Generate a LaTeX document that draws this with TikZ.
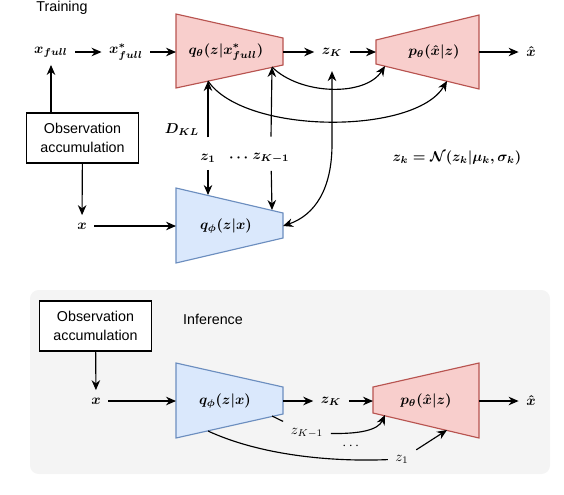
\documentclass[tikz,border=0pt]{standalone}
\usepackage{amsmath, amssymb, bm}
\usepackage[no-math]{fontspec}
\newfontfamily\labelfont{Liberation Sans}
\usetikzlibrary{arrows.meta}
\definecolor{decfill}{HTML}{F8CECC}\definecolor{decline}{HTML}{B85450}
\definecolor{encfill}{HTML}{DAE8FC}\definecolor{encline}{HTML}{6C8EBF}
\definecolor{panel}{HTML}{F4F4F4}

\begin{document}
\begin{tikzpicture}[x=0.7pt, y=-0.7pt, line width=0.8pt, >={Stealth[length=7pt, width=6pt]},
    txt/.style={font=\labelfont}, mth/.style={font=\boldmath, inner sep=5pt}, lbl/.style={inner sep=5pt},
    net/.style={font=\boldmath, inner sep=1pt},
    obs/.style={draw, fill=white, font=\labelfont\fontsize{10}{13}\selectfont, align=center, minimum width=78pt, minimum height=35pt},
    enc/.style={draw=encline, fill=encfill}, dec/.style={draw=decline, fill=decfill}]
  \useasboundingbox (0,0) rectangle (564,494);
  % training
  \draw[dec] (176,14) -- (283,38) -- (283,65) -- (176,88) -- cycle;
  \draw[dec] (376,40) -- (479,15) -- (479,89) -- (376,64) -- cycle;
  \draw[enc] (176,188) -- (283,213) -- (283,238) -- (176,263) -- cycle;
  \coordinate (qthin) at (176,52); \coordinate (qthout) at (283,52); \coordinate (qtha) at (208,81); \coordinate (qthb) at (272,67);
  \coordinate (pthin) at (376,52); \coordinate (pthout) at (479,52); \coordinate (ptha) at (385,66); \coordinate (pthb) at (447,81);
  \coordinate (qphin) at (176,226); \coordinate (qphout) at (283,226); \coordinate (qpha) at (208,195); \coordinate (qphb) at (272,210);
  \node[txt] (train) at (62,8) {Training};
  \node[mth] (xf) at (51,52) {$x_{full}$}; \node[mth] (xs) at (126,52) {$x^*_{full}$}; \node[net] (qth) at (226,52) {$q_\theta(z|x^*_{full})$};
  \node[mth] (zK) at (332,52) {$z_K$}; \node[net] (pth) at (434,52) {$p_\theta(\hat{x}|z)$}; \node[mth] (xh) at (531,52) {$\hat{x}$};
  \node[obs] (obs1) at (82.5,138) {Observation\\accumulation};
  \node[mth] (dkl) at (182,130) {$D_{KL}$};
  \node[mth] (z1) at (208,158) {$z_1$}; \node[mth] (dots) at (240,158) {$\cdots$}; \node[mth] (zk1) at (271,158) {$z_{K-1}$};
  \node[mth] (prior) at (457,158) {$z_k = \mathcal{N}(z_k|\mu_k, \sigma_k)$};
  \node[mth] (x1) at (82,226) {$x$}; \node[net] (qph) at (226,226) {$q_\phi(z|x)$};
  \draw[->] (xf) -- (xs); \draw[->] (xs) -- (qthin); \draw[->] (qthout) -- (zK); \draw[->] (zK) -- (pthin); \draw[->] (pthout) -- (xh);
  \draw[->] (obs1.north -| xf) -- (xf); \draw[->] (obs1) -- (x1); \draw[->] (x1) -- (qphin);
  \draw[->] ([yshift=6pt]z1.north) -- (qtha); \draw[->] ([yshift=6pt]zk1.north) -- (qthb);
  \draw[->] (z1) -- (qpha); \draw[->] (zk1) -- (qphb);
  \draw[->] (qthb) .. controls (300,95) and (365,97) .. (ptha);
  \draw[->] (qtha) .. controls (245,135) and (415,135) .. (pthb);
  \draw[<->, shorten <=5pt] (zK.south) -- ++(0,80) .. controls +(0,45) and (315,215) .. (qphout);
  % inference
  \fill[panel, rounded corners=6pt] (30,290) rectangle (550,474);
  \draw[enc] (176,363) -- (283,387) -- (283,414) -- (176,438) -- cycle;
  \draw[dec] (373,387) -- (479,363) -- (479,438) -- (373,413) -- cycle;
  \coordinate (qphin2) at (176,401); \coordinate (qphout2) at (283,401); \coordinate (qphc) at (272,416); \coordinate (qphd) at (208,431);
  \coordinate (pthin2) at (373,401); \coordinate (pthout2) at (479,401); \coordinate (pthc) at (385,415); \coordinate (pthd) at (447,430);
  \node[obs] (obs2) at (95.5,326) {Observation\\accumulation};
  \node[txt] (infer) at (213,319) {Inference};
  \node[mth] (x2) at (96,401) {$x$}; \node[net] (qph2) at (225,401) {$q_\phi(z|x)$};
  \node[mth] (zK2) at (331,401) {$z_K$}; \node[net] (pth2) at (426,401) {$p_\theta(\hat{x}|z)$}; \node[mth] (xh2) at (531,401) {$\hat{x}$};
  \node[lbl] (zk1i) at (307,433) {$z_{K-1}$}; \node[lbl] (dots2) at (352,446) {$\cdots$}; \node[lbl] (z1i) at (402,459) {$z_1$};
  \draw[->] (obs2) -- (x2); \draw[->] (x2) -- (qphin2); \draw[->] (qphout2) -- (zK2); \draw[->] (zK2) -- (pthin2); \draw[->] (pthout2) -- (xh2);
  \draw (qphc) -- (zk1i); \draw[->] (zk1i) .. controls (360,434) and (378,430) .. (pthc);
  \draw (qphd) .. controls (260,455) and (330,462) .. (z1i); \draw[->] (z1i) -- (pthd);
\end{tikzpicture}
\end{document}
